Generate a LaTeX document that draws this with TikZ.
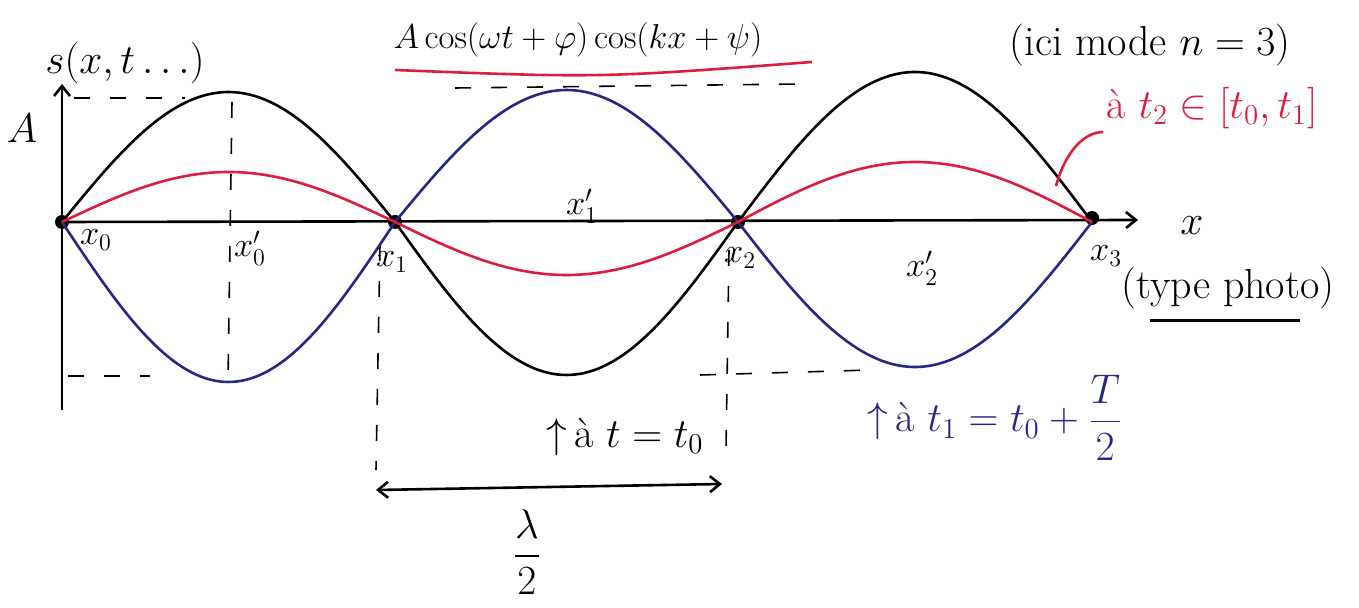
\documentclass[tikz,border=0pt]{standalone}
\usepackage{amsmath}
\usetikzlibrary{arrows.meta}
\definecolor{penred}{RGB}{222,28,62}
\definecolor{penblue}{RGB}{38,38,135}
\begin{document}
\begin{tikzpicture}[x=0.5pt,y=-0.5pt,>={Straight Barb[length=5pt,width=8pt]},line width=1.3pt,
    lbl/.style={font=\fontsize{17}{20}\selectfont, inner sep=1pt},
    big/.style={font=\fontsize{21}{25}\selectfont, inner sep=1pt},
    dot/.style={circle, fill=black, inner sep=0pt, minimum size=7pt},
    guide/.style={line width=0.8pt, dash pattern=on 8pt off 10pt}]
    \useasboundingbox (0,0) rectangle (1359,608);
    % nodes on the axis
    \node (x0) [dot] at (62,222) {};
    \node (x1) [dot] at (395,222) {};
    \node (x2) [dot] at (738,222) {};
    \node (x3) [dot] at (1092,218) {};
    \coordinate (origin) at (62,222);
    \coordinate (xend) at (1138,220);
    \coordinate (ybot) at (62,410);
    \coordinate (ytop) at (62,84);

    % axes
    \draw[->] (origin) -- (xend);
    \draw[->] (ybot) -- (ytop);
    \node (xlab) [big] at (1192,226) {$x$};
    \node (Alab) [big] at (22,128) {$A$};
    \node (slab) [big] at (125,63) {$s(x,t\ldots)$};

    % guides
    \draw[guide] (74,98) -- (185,98);
    \draw[guide] (68,376) -- (150,376);
    \draw[guide] (232,102) -- (228,382);
    \draw[guide] (455,88) -- (800,84);
    \draw[guide] (700,375) -- (870,370);
    \draw[guide] (380,245) -- (376,470);
    \draw[guide] (729,250) -- (726,450);

    % black: t = t0
    \draw plot[smooth, domain=0:180, samples=40] ({62+\x/180*333},{222-130*sin(\x)})
          plot[smooth, domain=0:180, samples=40] ({395+\x/180*343},{222+153*sin(\x)})
          plot[smooth, domain=0:180, samples=40] ({738+\x/180*354},{222-150*sin(\x)});
    % blue: t1 = t0 + T/2
    \draw[penblue] plot[smooth, domain=0:180, samples=40] ({62+\x/180*333},{222+160*sin(\x)})
          plot[smooth, domain=0:180, samples=40] ({395+\x/180*343},{222-132*sin(\x)})
          plot[smooth, domain=0:180, samples=40] ({738+\x/180*354},{222+145*sin(\x)});
    % red: t2
    \draw[penred] plot[smooth, domain=0:180, samples=40] ({62+\x/180*333},{222-50*sin(\x)})
          plot[smooth, domain=0:180, samples=40] ({395+\x/180*343},{222+53*sin(\x)})
          plot[smooth, domain=0:180, samples=40] ({738+\x/180*354},{222-60*sin(\x)});

    % axis labels
    \node (x0lab) [lbl] at (96,240) {$x_0$};
    \node (x0p) [lbl] at (250,248) {$x'_0$};
    \node (x1lab) [lbl] at (392,262) {$x_1$};
    \node (x1p) [lbl] at (582,206) {$x'_1$};
    \node (x2lab) [lbl] at (740,258) {$x_2$};
    \node (x2p) [lbl] at (922,268) {$x'_2$};
    \node (x3lab) [lbl] at (1106,256) {$x_3$};

    % formula and notes
    \node (formula) [font=\fontsize{19}{23}\selectfont] at (578,40) {$A\cos(\omega t+\varphi)\cos(kx+\psi)$};
    \draw[penred] (395,70) .. controls (600,78) .. (812,62);
    \node (mode) [big] at (1150,45) {(ici mode $n=3$)};
    \node (t2lab) [big, text=penred] at (1212,108) {à $t_2\in[t_0,t_1]$};
    \coordinate (onred) at (1056,186);
    \draw[penred] (onred) .. controls (1066,150) and (1085,132) .. (t2lab.south west);
    \node (photo) [big] at (1228,288) {(type photo)};
    \draw (photo.south west) ++(32,8) -- ++(150,0);

    \node (t0lab) [big] at (625,437) {$\uparrow$\,à $t=t_0$};
    \node (t1lab) [big, text=penblue] at (995,418) {$\uparrow$\,à $t_1=t_0+\dfrac{T}{2}$};

    % half wavelength
    \coordinate (hl) at (376,490);
    \coordinate (hr) at (722,484);
    \draw[<->] (hl) -- (hr);
    \node (lam) [big] at (527,552) {$\dfrac{\lambda}{2}$};
\end{tikzpicture}
\end{document}
